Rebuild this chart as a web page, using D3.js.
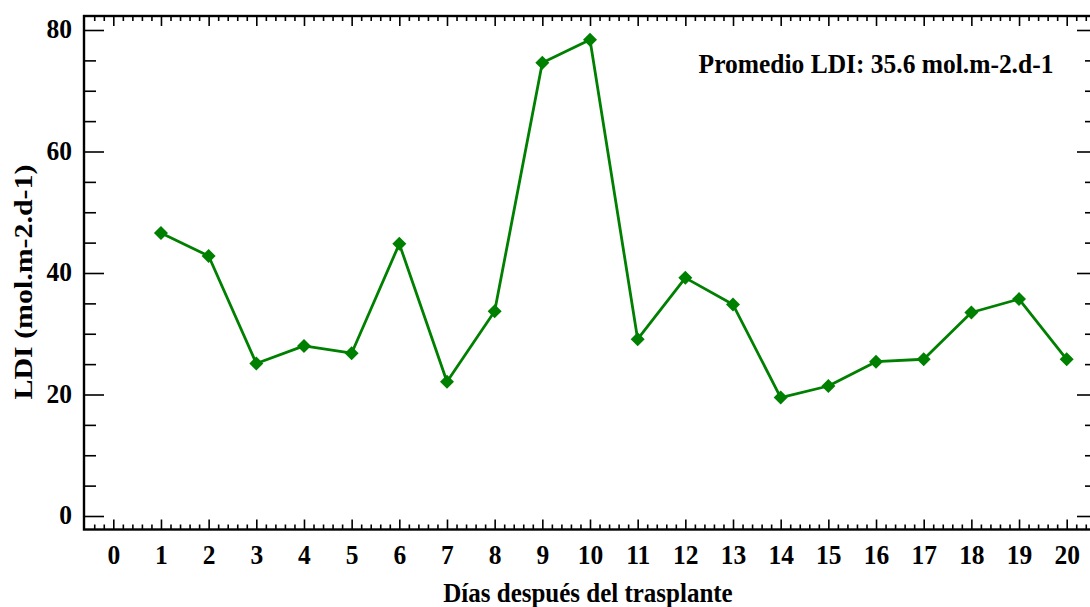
<!DOCTYPE html>
<html><head><meta charset="utf-8">
<script src="https://cdn.jsdelivr.net/npm/d3@7"></script>
<style>
html,body{margin:0;padding:0;background:#fff;}
svg{display:block;}
text{font-family:"Liberation Serif","Times New Roman",serif;font-weight:bold;fill:#000;}
</style></head>
<body>
<svg id="chart" width="1090" height="607"></svg>
<script>
const days = [1,2,3,4,5,6,7,8,9,10,11,12,13,14,15,16,17,18,19,20];
const ldi = [46.6,42.8,25.1,28.0,26.8,44.8,22.1,33.7,74.6,78.4,29.1,39.2,34.8,19.5,21.4,25.4,25.8,33.5,35.7,25.8];
const xTicks = d3.range(0,21,1);
const yTicks = [0,20,40,60,80];
const xLabel = "Días después del trasplante";
const yLabel = "LDI (mol.m-2.d-1)";
const note = "Promedio LDI: 35.6 mol.m-2.d-1";

const svg = d3.select("#chart");
const L = 84, R = 1097, T = 16, B = 529.5;
const x = d3.scaleLinear().domain([0,20]).range([113.3,1066.7]);
const y = d3.scaleLinear().domain([0,80]).range([516,30]);

const xMinor = d3.range(-0.4,20.61,0.2).filter(v=>Math.abs(v-Math.round(v))>1e-6);
const yMinor = d3.range(-0,82.01,5).filter(v=>v%20!==0);

function styleAxis(g){
  g.selectAll(".domain").remove();
  g.selectAll(".tick line").attr("stroke","#000").attr("stroke-width",1.6);
}
// bottom
const gb = svg.append("g").attr("transform",`translate(0,${B})`);
gb.call(d3.axisBottom(x).tickValues(xMinor).tickSize(-5).tickFormat("")).call(styleAxis);
const gb2 = svg.append("g").attr("transform",`translate(0,${B})`);
gb2.call(d3.axisBottom(x).tickValues(xTicks).tickSize(-10).tickFormat(d3.format("d"))).call(styleAxis);
gb2.selectAll(".tick text").attr("y",34.5).attr("dy",0).attr("font-size",25.5)
  .style("font-family","Liberation Serif").style("font-weight","bold")
  .attr("transform","translate(0,34.5) scale(1,1.08) translate(0,-34.5)");
// top
const gt = svg.append("g").attr("transform",`translate(0,${T})`);
gt.call(d3.axisTop(x).tickValues(xMinor).tickSize(-5).tickFormat("")).call(styleAxis);
const gt2 = svg.append("g").attr("transform",`translate(0,${T})`);
gt2.call(d3.axisTop(x).tickValues(xTicks).tickSize(-10).tickFormat("")).call(styleAxis);
// left
const gl = svg.append("g").attr("transform",`translate(${L},0)`);
gl.call(d3.axisLeft(y).tickValues(yMinor).tickSize(-12).tickFormat("")).call(styleAxis);
const gl2 = svg.append("g").attr("transform",`translate(${L},0)`);
gl2.call(d3.axisLeft(y).tickValues(yTicks).tickSize(-20).tickFormat(d3.format("d"))).call(styleAxis);
gl2.selectAll(".tick text").attr("x",-12).attr("dy","0.32em").attr("font-size",25.5)
  .style("font-family","Liberation Serif").style("font-weight","bold")
  .attr("transform","scale(1,1.08)").attr("y",-1);
// right
const gr = svg.append("g").attr("transform",`translate(${R},0)`);
gr.call(d3.axisRight(y).tickValues(yMinor).tickSize(-12).tickFormat("")).call(styleAxis);
const gr2 = svg.append("g").attr("transform",`translate(${R},0)`);
gr2.call(d3.axisRight(y).tickValues(yTicks).tickSize(-20).tickFormat("")).call(styleAxis);

// frame
svg.append("rect").attr("x",L).attr("y",T).attr("width",R-L).attr("height",B-T)
  .attr("fill","none").attr("stroke","#000").attr("stroke-width",2.4);

// line
const line = d3.line().x((d,i)=>x(days[i])).y(d=>y(d));
svg.append("path").datum(ldi).attr("d",line).attr("fill","none")
  .attr("stroke","#008000").attr("stroke-width",2.8).attr("stroke-linejoin","round");
svg.selectAll(".pt").data(ldi).enter().append("path").attr("class","pt")
  .attr("transform",(d,i)=>`translate(${x(days[i])},${y(d)})`)
  .attr("d",d3.symbol().type(d3.symbolDiamond2).size(125))
  .attr("fill","#008000");

// texts
svg.append("text").attr("transform","translate(876,73) scale(1,1.08)").attr("text-anchor","middle").attr("font-size",25.5).text(note);
svg.append("text").attr("transform","translate(32,282) rotate(-90) scale(1.15,1)").attr("text-anchor","middle").attr("font-size",26).text(yLabel);
svg.append("text").attr("transform","translate(588,602) scale(1,1.08)").attr("text-anchor","middle").attr("font-size",25).text(xLabel);
</script>
</body></html>
